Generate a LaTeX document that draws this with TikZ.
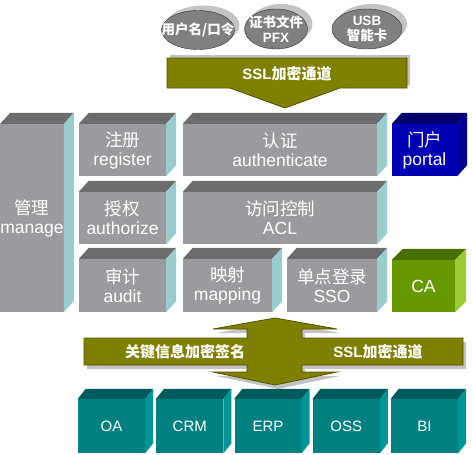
\documentclass[tikz,border=0pt]{standalone}
\usepackage{fontspec}
\setmainfont{Liberation Sans}
\newfontfamily\cjk{Noto Sans CJK SC}
\usepackage{tikz}
\usetikzlibrary{shapes.geometric}

\definecolor{grayfront}{RGB}{156,154,158}
\definecolor{graytop}{RGB}{108,108,110}
\definecolor{grayside}{RGB}{153,204,204}
\definecolor{bluefront}{RGB}{0,0,180}
\definecolor{bluetop}{RGB}{0,0,110}
\definecolor{blueside}{RGB}{0,0,150}
\definecolor{greenfront}{RGB}{102,153,0}
\definecolor{greentop}{RGB}{72,110,0}
\definecolor{greenside}{RGB}{153,204,51}
\definecolor{tealfront}{RGB}{0,128,128}
\definecolor{tealtop}{RGB}{0,92,92}
\definecolor{tealside}{RGB}{0,150,150}
\definecolor{pipeolive}{RGB}{128,128,0}
\definecolor{pipeedge}{RGB}{80,80,0}
\definecolor{shadowgray}{RGB}{195,195,195}
\definecolor{ellfill}{RGB}{128,128,128}
\definecolor{elledge}{RGB}{50,50,50}

\newcommand{\zh}[1]{{\cjk #1}}
% top face and right face of a box node
\newcommand{\cubefaces}[5]{%
  \fill[#2] (#1.north west) -- ++(#4,-#5) -- ([shift={(#4,-#5)}]#1.north east) -- (#1.north east) -- cycle;
  \fill[#3] (#1.north east) -- ++(#4,-#5) -- ([shift={(#4,-#5)}]#1.south east) -- (#1.south east) -- cycle;}
% credential disc with its shadow
\newcommand{\creddisc}[3]{%
  \fill[shadowgray] ([shift={(5,-5)}]#1) ellipse [x radius=#2, y radius=#3];
  \filldraw[fill=ellfill, draw=elledge] (#1) ellipse [x radius=#2, y radius=#3];}

\begin{document}
\begin{tikzpicture}[x=1pt,y=-1pt,
    cube/.style={inner sep=0pt, text=white, align=center, font=\fontsize{17.5}{19}\selectfont},
    appbox/.style={cube, fill=tealfront, minimum width=67pt, minimum height=54pt, font=\fontsize{15}{18}\selectfont},
    cred/.style={inner sep=0pt, text=white, align=center, font=\bfseries\fontsize{13.5}{15}\selectfont},
    pipe/.style={fill=pipeolive, draw=pipeedge, line width=0.8pt},
    pipetext/.style={text=white, font=\bfseries\fontsize{15}{18}\selectfont}]
\useasboundingbox (0,0) rectangle (472,455);

% credentials
\coordinate (userc) at (198,30);
\coordinate (certc) at (276,29);
\coordinate (usbc) at (367,29);
\creddisc{userc}{36.5pt}{19.5pt}
\creddisc{certc}{31.5pt}{20pt}
\creddisc{usbc}{35pt}{20pt}
\node[cred] (user) at (userc) {\zh{用户名/口令}};
\node[cred] (cert) at (certc) {\zh{证书文件}\\PFX};
\node[cred] (usb) at (usbc) {USB\\\zh{智能卡}};

% upper channel
\fill[shadowgray, shift={(3,-3)}] (167,58) -- (407,58) -- (407,88) -- (340,88) -- (285,108) -- (230,88) -- (167,88) -- cycle;
\filldraw[pipe] (167,58) -- (407,58) -- (407,88) -- (340,88) -- (285,108) -- (230,88) -- (167,88) -- cycle;
\node[pipetext] (tlsin) at (287,74) {SSL\zh{加密通道}};

% platform
\node[cube, fill=grayfront, minimum width=62pt, minimum height=188pt] (manage) at (32,218) {\zh{管理}\\manage};
\cubefaces{manage}{graytop}{grayside}{10}{11}
\node[cube, fill=grayfront, minimum width=87pt, minimum height=52pt] (register) at (122.5,150) {\zh{注册}\\register};
\cubefaces{register}{graytop}{grayside}{10}{11}
\node[cube, fill=grayfront, minimum width=87pt, minimum height=52pt] (authorize) at (122.5,218) {\zh{授权}\\authorize};
\cubefaces{authorize}{graytop}{grayside}{10}{11}
\node[cube, fill=grayfront, minimum width=87pt, minimum height=53pt] (audit) at (122.5,285.5) {\zh{审计}\\audit};
\cubefaces{audit}{graytop}{grayside}{10}{11}
\node[cube, fill=grayfront, minimum width=194pt, minimum height=52pt] (authn) at (280,150) {\zh{认证}\\authenticate};
\cubefaces{authn}{graytop}{grayside}{10}{11}
\node[cube, fill=grayfront, minimum width=194pt, minimum height=52pt] (acl) at (280,218) {\zh{访问控制}\\ACL};
\cubefaces{acl}{graytop}{grayside}{10}{11}
\node[cube, fill=grayfront, minimum width=89pt, minimum height=53pt] (mapping) at (227.5,285.5) {\zh{映射}\\mapping};
\cubefaces{mapping}{graytop}{grayside}{10}{11}
\node[cube, fill=grayfront, minimum width=90pt, minimum height=53pt] (sso) at (332,285.5) {\zh{单点登录}\\SSO};
\cubefaces{sso}{graytop}{grayside}{10}{11}
\node[cube, fill=bluefront, minimum width=65pt, minimum height=52pt] (portal) at (424.5,150) {\zh{门户}\\portal};
\cubefaces{portal}{bluetop}{blueside}{10}{11}
\node[cube, fill=greenfront, minimum width=63pt, minimum height=52pt] (ca) at (423.5,286) {CA};
\cubefaces{ca}{greentop}{greenside}{11}{11}

% lower channel
\fill[shadowgray, shift={(3,4)}] (275,318) -- (337,329) -- (302,329) -- (302,338) -- (463,338) -- (463,365) -- (302,365) -- (302,372) -- (337,372) -- (275,385) -- (213,372) -- (247,372) -- (247,365) -- (84,365) -- (84,338) -- (247,338) -- (247,329) -- (213,329) -- cycle;
\filldraw[pipe] (275,318) -- (337,329) -- (302,329) -- (302,338) -- (463,338) -- (463,365) -- (302,365) -- (302,372) -- (337,372) -- (275,385) -- (213,372) -- (247,372) -- (247,365) -- (84,365) -- (84,338) -- (247,338) -- (247,329) -- (213,329) -- cycle;
\node[pipetext] (sign) at (185,352) {\zh{关键信息加密签名}};
\node[pipetext] (tlsout) at (378,352) {SSL\zh{加密通道}};

% applications
\foreach \app [count=\i from 0] in {OA,CRM,ERP,OSS,BI} {
  \node[appbox] (\app) at (111.5+78.25*\i,426) {\app};
  \cubefaces{\app}{tealtop}{tealside}{8}{10}
}
\end{tikzpicture}
\end{document}
